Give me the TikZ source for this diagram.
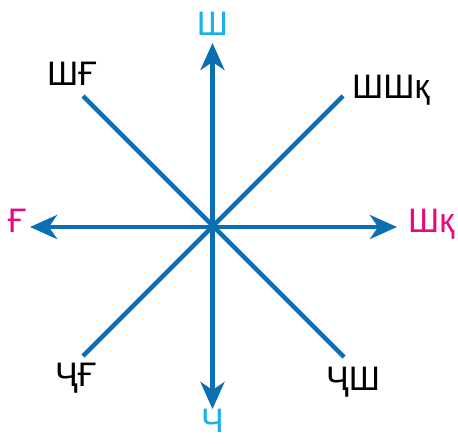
\documentclass[tikz,border=0pt]{standalone}
\usepackage{fontspec}
\setmainfont{Liberation Sans}
\usepackage{tikz}
\usetikzlibrary{arrows.meta}
\definecolor{dirblue}{RGB}{12,111,180}
\definecolor{dircyan}{RGB}{27,177,231}
\definecolor{dirpink}{RGB}{230,10,130}
\tikzset{
  dirline/.style={draw=dirblue, line width=4.5pt},
  dirarrow/.style={dirline, -{Stealth[length=27pt, width=24pt, inset=8pt]}},
  dirlabel/.style={inner sep=0pt, anchor=base, font=\fontsize{34}{40}\selectfont},
}

\begin{document}
\begin{tikzpicture}[x=1pt, y=-1pt]
    \useasboundingbox (0,0) rectangle (458,444);

    % Centre and the ends of the lines
    \coordinate (O) at (212.5,227);
    \coordinate (N) at (212.5,43);
    \coordinate (S) at (212.5,409);
    \coordinate (W) at (30,227);
    \coordinate (E) at (397,227);
    \coordinate (NW) at (83,96);
    \coordinate (NE) at (343,96);
    \coordinate (SW) at (83,356);
    \coordinate (SE) at (344,357);

    % Diagonals
    \draw[dirline] (NW) -- (SE);
    \draw[dirline] (NE) -- (SW);

    % Main directions
    \draw[dirarrow] (O) -- (N);
    \draw[dirarrow] (O) -- (S);
    \draw[dirarrow] (O) -- (W);
    \draw[dirarrow] (O) -- (E);

    % Labels
    \node[dirlabel, text=dircyan] (lN) at (212.5,36) {Ш};
    \node[dirlabel, text=dircyan] (lS) at (212.5,432) {Ч};
    \node[dirlabel, text=dirpink] (lW) at (17,232) {Ғ};
    \node[dirlabel, text=dirpink, anchor=base west] (lE) at (408,232) {Шқ};
    \node[dirlabel, anchor=base west] (lNW) at (47,85) {ШҒ};
    \node[dirlabel, anchor=base west] (lNE) at (352,99) {ШШқ};
    \node[dirlabel, anchor=base west] (lSW) at (55,386) {ҶҒ};
    \node[dirlabel, anchor=base west] (lSE) at (326,390) {ҶШ};
  \end{tikzpicture}
\end{document}
